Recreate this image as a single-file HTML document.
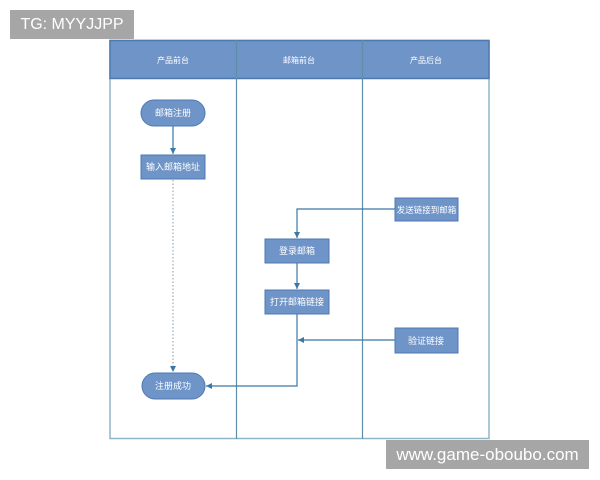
<!DOCTYPE html>
<html><head><meta charset="utf-8"><style>
body{margin:0;background:#fff;width:600px;height:480px;overflow:hidden;position:relative;font-family:"Liberation Sans","Noto Sans CJK SC",sans-serif}
.wm{position:absolute;background:#a6a6a6;color:#fff;font-size:16px;line-height:29px;text-align:center}
</style></head><body>
<svg width="600" height="480" style="position:absolute;left:0;top:0" font-family="Liberation Sans, Noto Sans CJK SC, sans-serif">
<defs><marker id="a" markerWidth="6" markerHeight="6" refX="5" refY="3" orient="auto"><path d="M0,0.5 L5,3 L0,5.5z" fill="#3a78a8"/></marker></defs>
<rect x="110" y="40.5" width="379" height="398" fill="#fff" stroke="#8fb6c8" stroke-width="1.5"/>
<rect x="110" y="40.5" width="379" height="38" fill="#6f94c8" stroke="#4e79b0" stroke-width="1.5"/>
<line x1="236.5" y1="40" x2="236.5" y2="439" stroke="#5f8ea8" stroke-width="1.2"/>
<line x1="362.5" y1="40" x2="362.5" y2="439" stroke="#5f8ea8" stroke-width="1.2"/>
<g font-size="8" fill="#fff" text-anchor="middle">
<text x="173" y="63">产品前台</text><text x="299" y="63">邮箱前台</text><text x="426" y="63">产品后台</text>
</g>
<g stroke="#3a78a8" stroke-width="1.2" fill="none">
<line x1="173" y1="126" x2="173" y2="154" marker-end="url(#a)"/>
<line x1="173" y1="180" x2="173" y2="372" stroke-dasharray="1.5,2" stroke="#9ab" marker-end="url(#a)"/>
<polyline points="395,209 297,209 297,238" marker-end="url(#a)"/>
<line x1="297" y1="263" x2="297" y2="289" marker-end="url(#a)"/>
<polyline points="297,314 297,386 206,386" marker-end="url(#a)"/>
<line x1="395" y1="340" x2="298" y2="340" marker-end="url(#a)"/>
</g>
<g fill="#6f94c8" stroke="#4e79b0" stroke-width="1">
<rect x="141" y="100" width="64" height="26" rx="13"/>
<rect x="141" y="155" width="64" height="24"/>
<rect x="142" y="373" width="63" height="26" rx="13"/>
<rect x="395" y="198" width="63" height="23"/>
<rect x="265" y="239" width="64" height="24"/>
<rect x="265" y="290" width="64" height="24"/>
<rect x="395" y="328" width="63" height="25"/>
</g>
<g font-size="9" fill="#fff" text-anchor="middle">
<text x="173" y="116">邮箱注册</text>
<text x="173" y="170">输入邮箱地址</text>
<text x="173" y="389">注册成功</text>
<text x="426.5" y="213" font-size="8.5">发送链接到邮箱</text>
<text x="297" y="254">登录邮箱</text>
<text x="297" y="305">打开邮箱链接</text>
<text x="426" y="344">验证链接</text>
</g>
</svg>
<div class="wm" style="left:10px;top:10px;width:124px;height:29px">TG: MYYJJPP</div>
<div class="wm" style="left:386px;top:440px;width:203px;height:29px;font-size:17px">www.game-oboubo.com</div>
</body></html>
